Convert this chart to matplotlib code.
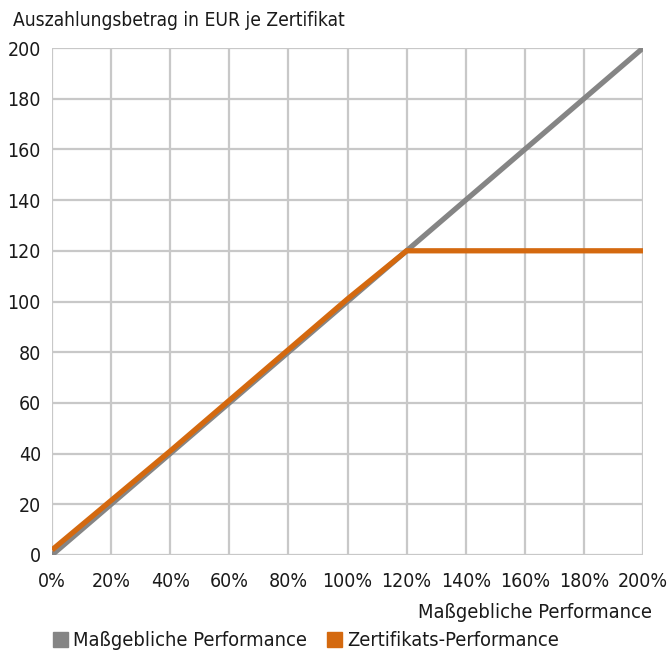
import matplotlib.pyplot as plt
from matplotlib.patches import Patch

# values
perf_x = [0, 200]
perf_y = [0, 200]
cert_x = [0, 20, 40, 60, 80, 100, 120, 200]
cert_y = [2, 21.5, 41, 61, 81, 101, 120, 120]

x_ticks = list(range(0, 201, 20))
y_ticks = list(range(0, 201, 20))

gray = "#858585"
orange = "#d4690f"

plt.rcParams["font.family"] = ["DejaVu Sans"]
plt.rcParams["font.stretch"] = "condensed"
plt.rcParams["font.size"] = 14

fig = plt.figure(figsize=(6.69, 6.53), dpi=100)
ax = fig.add_axes([52 / 669, 1 - 555 / 653, 591 / 669, 507 / 653])

ax.plot(perf_x, perf_y, color=gray, lw=3.8, solid_capstyle="butt", zorder=3)
ax.plot(cert_x, cert_y, color=orange, lw=3.8, solid_capstyle="butt", zorder=4)

ax.set_xlim(0, 200)
ax.set_ylim(0, 200)
ax.set_xticks(x_ticks)
ax.set_xticklabels([f"{v}%" for v in x_ticks])
ax.set_yticks(y_ticks)
ax.grid(True, color="#c8c8c8", lw=1.6)
ax.set_axisbelow(True)
for s in ax.spines.values():
    s.set_visible(False)
ax.tick_params(axis="y", length=0, pad=8, labelcolor="#1a1a1a")
ax.tick_params(axis="x", length=0, pad=12, labelcolor="#1a1a1a")

fig.text(13 / 669, 1 - 20 / 653, "Auszahlungsbetrag in EUR je Zertifikat",
         ha="left", va="center", color="#1a1a1a", fontsize=13.8)
fig.text(652 / 669, 1 - 612 / 653, "Maßgebliche Performance",
         ha="right", va="center", color="#1a1a1a", fontsize=14.4)

handles = [Patch(color=gray, label="Maßgebliche Performance"),
           Patch(color=orange, label="Zertifikats-Performance")]
fig.legend(handles=handles, loc="center left", bbox_to_anchor=(53 / 669, 1 - 641 / 653),
           ncol=2, frameon=False, handlelength=0.75, handleheight=0.75,
           handletextpad=0.25, columnspacing=1.0, borderpad=0, borderaxespad=0,
           labelcolor="#1a1a1a", fontsize=14.4)

fig.savefig("out.png", dpi=100)
